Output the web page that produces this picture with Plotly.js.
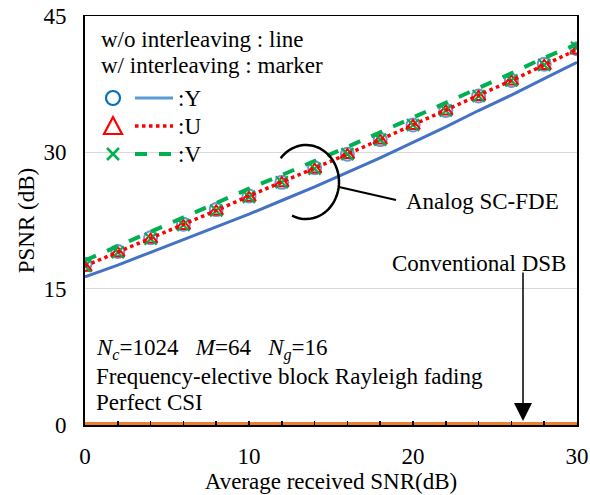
<!DOCTYPE html>
<html><head><meta charset="utf-8">
<script src="https://cdn.plot.ly/plotly-3.0.1.min.js"></script>
<style>html,body{margin:0;padding:0;background:#fff}#chart{width:590px;height:495px}</style>
</head><body><div id="chart"></div>
<script>
// ---- data ----
const snr = [0,2,4,6,8,10,12,14,16,18,20,22,24,26,28,30];
// w/o interleaving (lines)
const Y_line = [16.3,17.6,19.0,20.4,21.8,23.2,24.7,26.2,27.8,29.4,31.1,32.8,34.6,36.3,38.1,39.9];
const U_line = [17.5,19.0,20.5,22.0,23.6,25.2,26.7,28.2,29.8,31.4,33.0,34.6,36.2,37.9,39.6,41.3];
const V_line = [18.1,19.7,21.2,22.8,24.4,26.0,27.5,29.0,30.6,32.2,33.8,35.4,37.0,38.7,40.4,41.9];
// w/ interleaving (markers)
const Y_int = [17.7,19.1,20.6,22.1,23.7,25.2,26.7,28.3,29.8,31.4,33.0,34.6,36.2,37.9,39.7,41.4];
const U_int = [17.3,18.9,20.4,21.9,23.5,25.0,26.6,28.1,29.7,31.3,32.9,34.5,36.1,37.8,39.5,41.2];
const V_int = [17.5,19.0,20.5,22.0,23.6,25.1,26.7,28.2,29.8,31.4,33.0,34.6,36.2,37.9,39.6,41.5];
// conventional DSB
const DSB_a = [0,0,0,0,0,0,0,0,0,0,0,0,0,0,0,0];
const DSB_b = [0.15,0.15,0.15,0.15,0.15,0.15,0.15,0.15,0.15,0.15,0.15,0.15,0.15,0.15,0.15,0.15];
const xTicks = [0,10,20,30];
const yTicks = [0,15,30,45];

// ---- layout helpers (pixel -> data) ----
const L=85, R=577, T=16, B=425;
const X = px => (px-L)/(R-L)*30;
const Yd = py => (B-py)/(B-T)*45;
const F = 'Liberation Serif, Times New Roman, serif';
const FS = 23;

const traces = [
  {x:snr,y:DSB_a,mode:'lines',line:{color:'#7030A0',width:2},hoverinfo:'skip'},
  {x:snr,y:DSB_b,mode:'lines',line:{color:'#ED7D31',width:3.5},hoverinfo:'skip'},
  {x:snr,y:Y_line,mode:'lines',line:{color:'#4472C4',width:3}},
  {x:snr,y:Y_int,mode:'markers',marker:{symbol:'circle-open',size:13,color:'#6F95D8',line:{width:2}}},
  {x:snr,y:U_int,mode:'markers',marker:{symbol:'triangle-up-open',size:12,color:'#FF0000',line:{width:2}}},
  {x:snr,y:V_int,mode:'markers',marker:{symbol:'x-thin-open',size:12,color:'#00B050',line:{width:2.2}}},
  {x:snr,y:U_line,mode:'lines',line:{color:'#FF0000',width:3.5,dash:'dot'}},
  {x:snr,y:V_line,mode:'lines',line:{color:'#00B050',width:4,dash:'dash'}}
];

// arc around SC-FDE curves
const cx=306, cy=182, rx=33, ry=37;
let path='';
for(let i=0;i<=60;i++){
  const a=(140 - i*(255/60))*Math.PI/180;
  const px=cx+rx*Math.cos(a), py=cy-ry*Math.sin(a);
  path += (i===0?'M':'L') + X(px).toFixed(4)+','+Yd(py).toFixed(4);
}

const shapes = [
  {type:'path',path:path,line:{color:'#000',width:2.5}},
  {type:'line',x0:X(339),y0:Yd(187),x1:X(396),y1:Yd(200),line:{color:'#000',width:2}},
  // legend samples
  {type:'circle',x0:X(106),x1:X(120),y0:Yd(91),y1:Yd(105),line:{color:'#0070C0',width:2.2}},
  {type:'line',x0:X(135),x1:X(173),y0:Yd(98),y1:Yd(98),line:{color:'#5B9BD5',width:3}},
  {type:'path',path:'M'+X(113)+','+Yd(117)+'L'+X(104)+','+Yd(134)+'L'+X(122)+','+Yd(134)+'Z',line:{color:'#FF0000',width:2.2}},
  {type:'line',x0:X(135),x1:X(173),y0:Yd(126),y1:Yd(126),line:{color:'#FF0000',width:3.5,dash:'dot'}},
  {type:'line',x0:X(107),x1:X(119),y0:Yd(148),y1:Yd(160),line:{color:'#00B050',width:2.5}},
  {type:'line',x0:X(107),x1:X(119),y0:Yd(160),y1:Yd(148),line:{color:'#00B050',width:2.5}},
  {type:'line',x0:X(135),x1:X(173),y0:Yd(154),y1:Yd(154),line:{color:'#00B050',width:4,dash:'dash'}}
];

const txt = (s,px,py,anchor) => ({text:s,x:X(px),y:Yd(py),xref:'x',yref:'y',showarrow:false,
  xanchor:anchor||'left',yanchor:'middle',font:{family:F,size:FS,color:'#000'}});

const annotations = [
  txt('w/o interleaving : line',99,39),
  txt('w/ interleaving : marker',99,65),
  txt(':Y',176,98), txt(':U',176,126), txt(':V',176,154),
  txt('Analog SC-FDE',404,201),
  txt('Conventional DSB',390,263),
  txt('<i>N<sub>c</sub></i>=1024&nbsp;&nbsp;&nbsp;<i>M</i>=64&nbsp;&nbsp;&nbsp;<i>N<sub>g</sub></i>=16',94,349),
  txt('Frequency-elective block Rayleigh fading',94,376),
  txt('Perfect CSI',94,402),
  {x:X(523),y:Yd(421),ax:0,ay:-150,xref:'x',yref:'y',text:'',showarrow:true,arrowhead:2,arrowsize:2.4,arrowwidth:1.5,arrowcolor:'#000'}
];

const layout = {
  width:590,height:495,
  margin:{l:L,r:590-R,t:T,b:495-B},
  paper_bgcolor:'#fff',plot_bgcolor:'#fff',
  showlegend:false,
  font:{family:F,size:FS,color:'#000'},
  xaxis:{range:[0,30],tickvals:xTicks,ticks:'inside',ticklen:4,tickwidth:1.5,tickcolor:'#000',
    minor:{dtick:2,ticks:'inside',ticklen:4,tickwidth:1.5,tickcolor:'#000'},
    showgrid:false,zeroline:false,showline:true,linecolor:'#000',linewidth:1.5,mirror:true,ticklabelstandoff:10,
    tickfont:{family:F,size:FS},title:{text:'Average received SNR(dB)',font:{family:F,size:FS},standoff:4}},
  yaxis:{range:[0,45],tickvals:yTicks,ticks:'',showgrid:true,gridcolor:'#D9D9D9',gridwidth:1.5,
    zeroline:false,showline:true,linecolor:'#000',linewidth:2,mirror:true,ticklabelstandoff:12,
    tickfont:{family:F,size:FS},title:{text:'PSNR (dB)',font:{family:F,size:FS},standoff:2}},
  shapes:shapes,annotations:annotations
};
Plotly.newPlot('chart',traces,layout,{displayModeBar:false,staticPlot:true});
</script></body></html>
